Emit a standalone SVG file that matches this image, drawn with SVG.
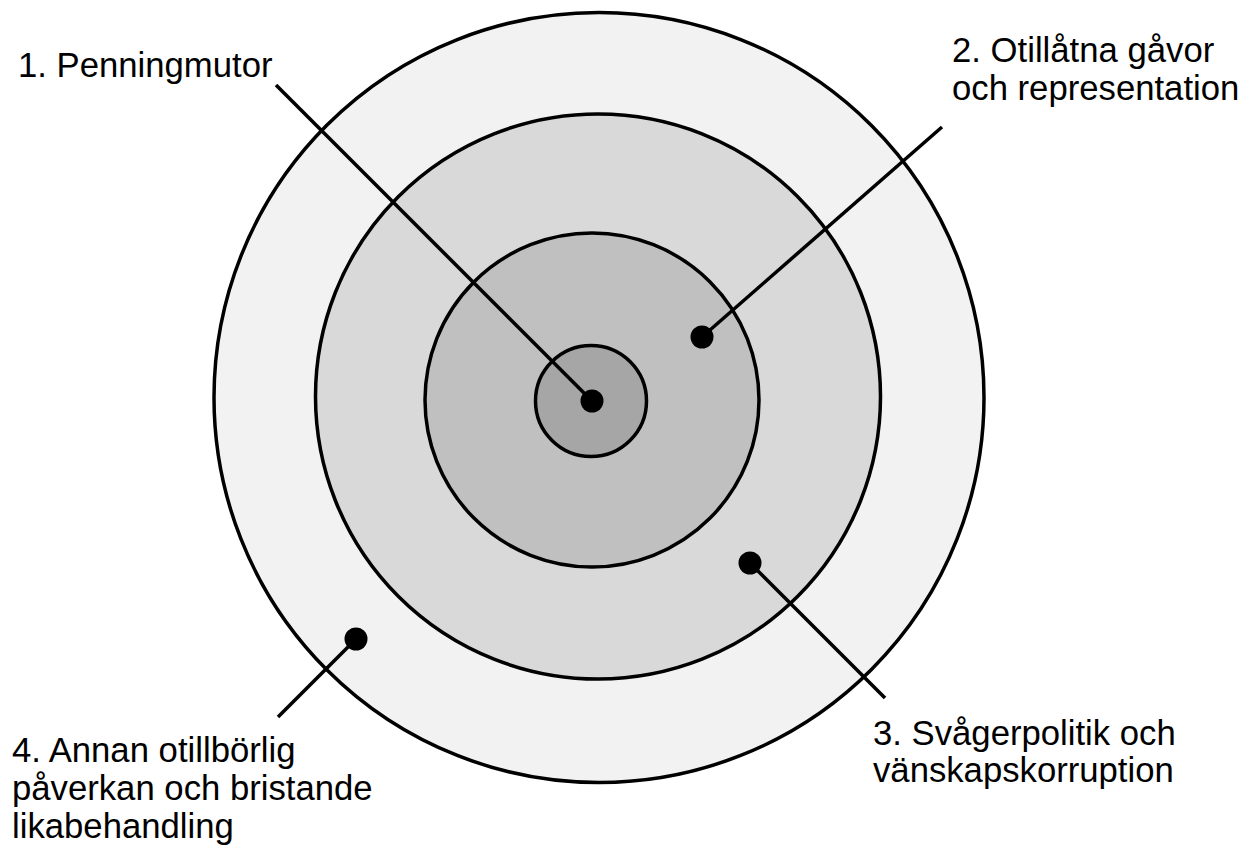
<svg xmlns="http://www.w3.org/2000/svg" width="1244" height="847" viewBox="0 0 1244 847">
<style>
.ring{stroke:#000;stroke-width:3.5}
.lead{stroke:#000;stroke-width:3.5;fill:none}
.dot{fill:#000}
.lbl{font-family:"Liberation Sans",Arial,sans-serif;font-size:34.7px;fill:#000}
</style>
<rect width="1244" height="847" fill="#fff"/>
<g id="ring4"><circle class="ring" cx="599" cy="397.5" r="385" fill="#f2f2f2"/></g>
<g id="ring3"><circle class="ring" cx="598" cy="396.5" r="282.5" fill="#d9d9d9"/></g>
<g id="ring2"><circle class="ring" cx="592" cy="400" r="167" fill="#c0c0c0"/></g>
<g id="ring1"><circle class="ring" cx="591" cy="401" r="55.5" fill="#a6a6a6"/></g>
<g id="connectors">
<line class="lead" x1="276" y1="85" x2="592" y2="401"/>
<line class="lead" x1="942" y1="127" x2="702" y2="337"/>
<line class="lead" x1="750" y1="563" x2="885" y2="698"/>
<line class="lead" x1="356" y1="639" x2="278" y2="717"/>
</g>
<g id="dots">
<circle class="dot" cx="592" cy="401" r="11.5"/>
<circle class="dot" cx="702" cy="337" r="11.5"/>
<circle class="dot" cx="750" cy="563" r="11.5"/>
<circle class="dot" cx="356" cy="639" r="11.5"/>
</g>
<g id="label1"><text class="lbl" x="18" y="77">1. Penningmutor</text></g>
<g id="label2"><text class="lbl" x="952" y="62">2. Otillåtna gåvor</text><text class="lbl" x="952" y="100">och representation</text></g>
<g id="label3"><text class="lbl" x="873" y="745">3. Svågerpolitik och</text><text class="lbl" x="873" y="782">vänskapskorruption</text></g>
<g id="label4"><text class="lbl" x="12" y="762">4. Annan otillbörlig</text><text class="lbl" x="12" y="800">påverkan och bristande</text><text class="lbl" x="12" y="838">likabehandling</text></g>
</svg>
